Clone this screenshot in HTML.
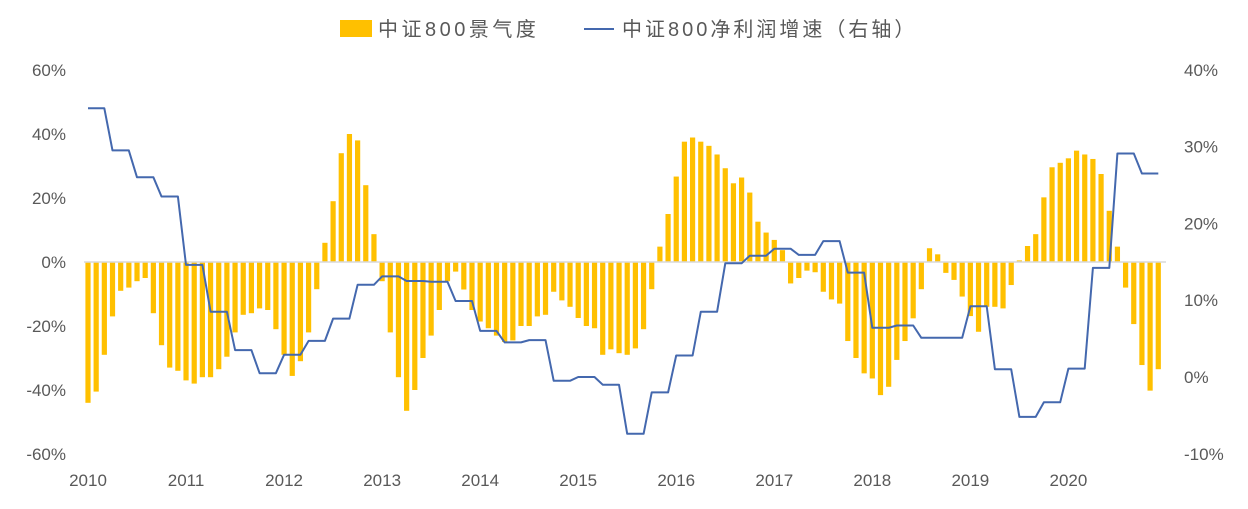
<!DOCTYPE html>
<html><head><meta charset="utf-8">
<style>
html,body{margin:0;padding:0;background:#fff;}
svg text{font-family:"Liberation Sans","Noto Sans CJK SC",sans-serif;}
</style></head>
<body>
<svg id="chart" width="1248" height="504" viewBox="0 0 1248 504" xmlns="http://www.w3.org/2000/svg">
  <g>
    <rect x="340" y="20" width="32" height="17" fill="#FFC000"/>
    <text x="378" y="36" font-size="20" letter-spacing="3.5" fill="#595959">中证800景气度</text>
    <line x1="584" y1="29" x2="614" y2="29" stroke="#4468AE" stroke-width="2"/>
    <text x="622" y="36" font-size="20" letter-spacing="3" fill="#595959">中证800净利润增速（右轴）</text>
  </g>
  <g id="leftAxis"></g>
  <g id="rightAxis"></g>
  <g id="xAxis"></g>
  <g id="bars"></g>
  <line x1="84" y1="262" x2="1166" y2="262" stroke="#d9d9d9" stroke-width="1.5"/>
  <g id="lineG"></g>
</svg>
<script>
const years = ["2010","2011","2012","2013","2014","2015","2016","2017","2018","2019","2020"];
const leftTicks = [60,40,20,0,-20,-40,-60];
const rightTicks = [40,30,20,10,0,-10];
const prosperity = [
-44,-40.5,-29,-17,-9,-8,-6,-5,-16,-26,-33,-34,
-37,-38,-36,-36,-33.5,-29.6,-22,-16.5,-16,-14.5,-15,-21,
-29,-35.6,-31,-22,-8.5,6,19,34,40,38,24,8.7,
-6,-22,-36,-46.5,-40,-30,-23,-15,-6,-3,-8.6,-15,
-18.6,-20.7,-23,-25,-24.5,-20,-20,-17,-16.5,-9.3,-12,-14,
-17.5,-20,-20.7,-29,-27.3,-28.5,-29,-27,-21,-8.5,4.8,15,
26.7,37.6,38.9,37.6,36.3,33.6,29.3,24.6,26.4,21.7,12.6,9.2,
6.9,3.7,-6.7,-5,-2.7,-3.2,-9.3,-11.7,-13,-24.7,-30,-34.8,
-36.4,-41.6,-39,-30.6,-24.7,-17.6,-8.5,4.3,2.4,-3.4,-5.6,-10.8,
-16.9,-21.8,-14,-14,-14.5,-7.2,0.5,5,8.7,20.2,29.6,31,
32.4,34.8,33.6,32.2,27.5,16,4.8,-8,-19.4,-32.2,-40.2,-33.5
];
const profitGrowth = [
35,35,35,29.5,29.5,29.5,26,26,26,23.5,23.5,23.5,
14.6,14.6,14.6,8.5,8.5,8.5,3.5,3.5,3.5,0.5,0.5,0.5,
2.9,2.9,2.9,4.7,4.7,4.7,7.6,7.6,7.6,12,12,12,
13.1,13.1,13.1,12.5,12.5,12.5,12.4,12.4,12.4,9.9,9.9,9.9,
6,6,6,4.5,4.5,4.5,4.8,4.8,4.8,-0.5,-0.5,-0.5,
0,0,0,-1,-1,-1,-7.4,-7.4,-7.4,-2,-2,-2,
2.8,2.8,2.8,8.5,8.5,8.5,14.8,14.8,14.8,15.8,15.8,15.8,
16.7,16.7,16.7,15.9,15.9,15.9,17.7,17.7,17.7,13.6,13.6,13.6,
6.4,6.4,6.4,6.7,6.7,6.7,5.1,5.1,5.1,5.1,5.1,5.1,
9.2,9.2,9.2,1,1,1,-5.2,-5.2,-5.2,-3.3,-3.3,-3.3,
1.1,1.1,1.1,14.2,14.2,14.2,29.1,29.1,29.1,26.5,26.5,26.5
];
const NS='http://www.w3.org/2000/svg';
const X0=88, DX=8.17;
const xPos = i => X0 + i*DX;
const yLeft = v => 262 - v*3.2;
const yRight = v => 377 - v*7.68;
function mk(tag, attrs, parent){const e=document.createElementNS(NS,tag);for(const k in attrs)e.setAttribute(k,attrs[k]);parent.appendChild(e);return e;}
const la=document.getElementById('leftAxis');
leftTicks.forEach(v=>{
  const t=mk('text',{x:66,y:yLeft(v)+6,'font-size':17,fill:'#595959','text-anchor':'end'},la);
  
  
  t.textContent=v+'%';
});
const ra=document.getElementById('rightAxis');
rightTicks.forEach(v=>{
  const t=mk('text',{x:1184,y:yRight(v)+6,'font-size':17,fill:'#595959'},ra);
  
  
  t.textContent=v+'%';
});
const xa=document.getElementById('xAxis');
years.forEach((y,k)=>{
  const t=mk('text',{x:xPos(k*12),y:486,'font-size':17,fill:'#595959','text-anchor':'middle'},xa);
  
  
  t.textContent=y;
});
const bg=document.getElementById('bars');
prosperity.forEach((v,i)=>{
  const y0=yLeft(0), y1=yLeft(v);
  const r=mk('rect',{x:xPos(i)-2.6,y:Math.min(y0,y1),width:5.2,height:Math.abs(y1-y0),fill:'#FFC000'},bg);
  
  
});
const lg=document.getElementById('lineG');
const p=mk('polyline',{points:profitGrowth.map((v,i)=>xPos(i).toFixed(1)+','+yRight(v).toFixed(1)).join(' '),fill:'none',stroke:'#4468AE','stroke-width':2,'stroke-linejoin':'round'},lg);


</script>
</body></html>
